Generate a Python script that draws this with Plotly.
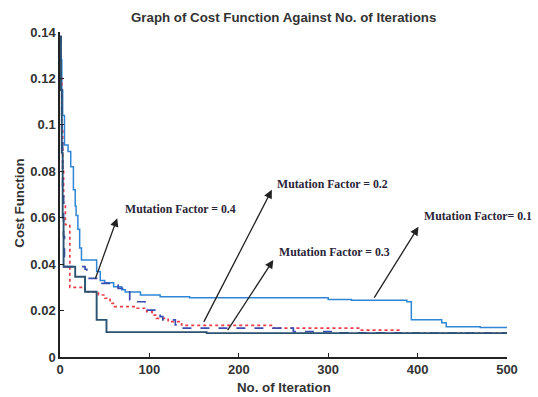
import plotly.graph_objects as go

# Cost function history (step values) for each mutation factor
iter_mf01 = [0, 1, 2, 3, 5, 9, 12, 15, 17, 18, 20, 22, 24, 41, 45, 50, 60, 69, 73, 90, 112, 145, 300, 326, 388, 393, 427, 432, 470, 500]
cost_mf01 = [0.138, 0.128, 0.115, 0.104, 0.0913, 0.0885, 0.082, 0.072, 0.065, 0.061, 0.055, 0.047, 0.0418, 0.0368, 0.033, 0.032, 0.0303, 0.029, 0.028, 0.0267, 0.026, 0.0255, 0.0248, 0.0245, 0.0238, 0.016, 0.0148, 0.013, 0.0127, 0.0124]

iter_mf02 = [0, 1, 2, 3, 4, 6, 11, 28, 43, 50, 56, 61, 84, 97, 103, 108, 121, 136, 140, 238, 335, 380, 500]
cost_mf02 = [0.138, 0.120, 0.098, 0.080, 0.065, 0.057, 0.030, 0.028, 0.0267, 0.0253, 0.0231, 0.0217, 0.021, 0.0195, 0.018, 0.0166, 0.0152, 0.0138, 0.0136, 0.0124, 0.0116, 0.0103, 0.0103]

iter_mf03 = [0, 1, 2, 3, 4, 17, 28, 41, 52, 164, 500]
cost_mf03 = [0.138, 0.115, 0.088, 0.060, 0.0389, 0.0346, 0.0281, 0.016, 0.0107, 0.0103, 0.0103]

iter_mf04 = [0, 1, 2, 3, 4, 5, 28, 30, 43, 58, 65, 78, 86, 95, 112, 115, 129, 136, 261, 310, 377, 500]
cost_mf04 = [0.138, 0.118, 0.095, 0.072, 0.052, 0.0389, 0.0378, 0.0339, 0.0317, 0.031, 0.0296, 0.0246, 0.0238, 0.0202, 0.0174, 0.016, 0.0138, 0.0124, 0.0109, 0.0104, 0.0103, 0.0103]

x_ticks = [0, 100, 200, 300, 400, 500]
y_ticks = [0, 0.02, 0.04, 0.06, 0.08, 0.1, 0.12, 0.14]
y_tick_text = ["0", "0.02", "0.04", "0.06", "0.08", "0.1", "0.12", "0.14"]

# Callout labels: text, arrow tail (on curve), arrow head, label centre
callout_text = ["Mutation Factor = 0.4", "Mutation Factor = 0.2", "Mutation Factor = 0.3", "Mutation Factor= 0.1"]
callout_tail = [(39, 0.0332), (160, 0.0145), (186.5, 0.0109), (350.5, 0.0249)]
callout_head = [(64, 0.0598), (237, 0.072), (238.6, 0.0418), (401, 0.0561)]
callout_label = [(135, 0.0637), (305, 0.0745), (306.5, 0.0454), (468, 0.0607)]

SANS = "Liberation Sans, Arial, sans-serif"
SERIF = "Liberation Serif, Times New Roman, serif"

fig = go.Figure()

fig.add_trace(go.Scatter(x=iter_mf01, y=cost_mf01, mode="lines", line_shape="hv",
                         line=dict(color="#2f86d6", width=1.5), name="0.1"))
fig.add_trace(go.Scatter(x=iter_mf02, y=cost_mf02, mode="lines", line_shape="hv",
                         line=dict(color="#ee3b4a", width=1.7, dash="dot"), name="0.2"))
fig.add_trace(go.Scatter(x=iter_mf04, y=cost_mf04, mode="lines", line_shape="hv",
                         line=dict(color="#3a4db0", width=1.7, dash="dash"), name="0.4"))
fig.add_trace(go.Scatter(x=iter_mf03, y=cost_mf03, mode="lines", line_shape="hv",
                         line=dict(color="#2b5270", width=1.9), name="0.3"))

annotations = []
for txt, tail, head, lab in zip(callout_text, callout_tail, callout_head, callout_label):
    annotations.append(dict(x=head[0], y=head[1], ax=tail[0], ay=tail[1],
                            xref="x", yref="y", axref="x", ayref="y",
                            text="", showarrow=True, arrowhead=2, arrowsize=1.3,
                            arrowwidth=1.3, arrowcolor="#222222"))
    annotations.append(dict(x=lab[0], y=lab[1], xref="x", yref="y", text="<b>" + txt + "</b>",
                            showarrow=False, xanchor="center", yanchor="middle",
                            font=dict(family=SERIF, size=11.8, color="#2a2438")))

annotations.append(dict(x=0.5, y=-0.095, xref="paper", yref="paper", text="<b>No. of Iteration</b>",
                        showarrow=False, xanchor="center", yanchor="middle",
                        font=dict(family=SANS, size=13.3, color="#333333")))
annotations.append(dict(x=-0.09, y=0.474, xref="paper", yref="paper", text="<b>Cost Function</b>",
                        showarrow=False, textangle=-90, xanchor="center", yanchor="middle",
                        font=dict(family=SANS, size=13.3, color="#333333")))
annotations.append(dict(x=0.5, y=1.044, xref="paper", yref="paper",
                        text="<b>Graph of Cost Function Against No. of Iterations</b>",
                        showarrow=False, xanchor="center", yanchor="middle",
                        font=dict(family=SANS, size=13.3, color="#333333")))

axis_common = dict(showgrid=False, zeroline=False, showline=True, linecolor="#222222", linewidth=1.5,
                   ticks="inside", ticklen=4, tickwidth=1.2, tickcolor="#222222",
                   tickfont=dict(family=SANS, size=13, color="#333333", weight="bold"))

fig.update_layout(
    width=538, height=397,
    margin=dict(l=60, r=31, t=32, b=40),
    paper_bgcolor="white", plot_bgcolor="white",
    showlegend=False,
    annotations=annotations,
    xaxis=dict(range=[0, 500], tickvals=x_ticks, **axis_common),
    yaxis=dict(range=[0, 0.14], tickvals=y_ticks, ticktext=y_tick_text, **axis_common),
)

fig.write_html("out.html")
